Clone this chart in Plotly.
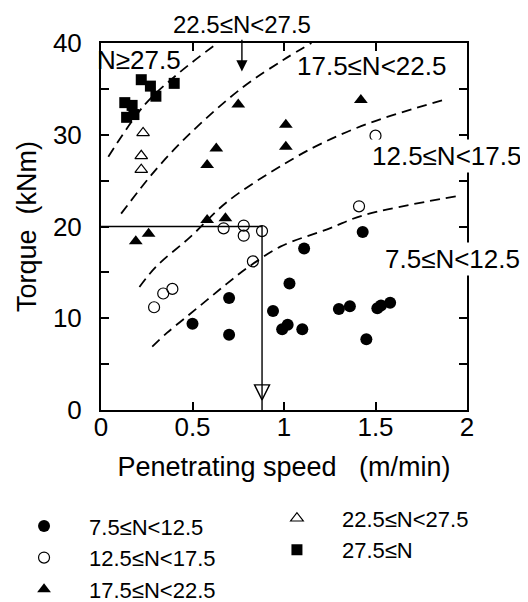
import plotly.graph_objects as go

# ---- data ----
n1_x = [0.50, 0.70, 0.70, 0.94, 0.99, 1.02, 1.10, 1.03, 1.11, 1.30, 1.36, 1.43, 1.45, 1.51, 1.53, 1.58]
n1_y = [9.4, 12.2, 8.2, 10.8, 8.8, 9.3, 8.8, 13.8, 17.6, 11.0, 11.3, 19.4, 7.7, 11.1, 11.4, 11.7]

n2_x = [0.29, 0.34, 0.39, 0.67, 0.78, 0.78, 0.88, 0.83, 1.41, 1.50]
n2_y = [11.2, 12.7, 13.2, 19.8, 20.1, 19.0, 19.5, 16.2, 22.2, 29.9]

n3_x = [0.19, 0.26, 0.58, 0.68, 0.58, 0.63, 0.75, 1.01, 1.01, 1.42]
n3_y = [18.4, 19.2, 20.7, 20.9, 26.7, 28.5, 33.3, 28.7, 31.1, 33.8]

n4_x = [0.23, 0.22, 0.22]
n4_y = [30.2, 27.7, 26.2]

n5_x = [0.13, 0.17, 0.14, 0.18, 0.22, 0.27, 0.30, 0.40]
n5_y = [33.5, 33.2, 31.9, 32.2, 36.0, 35.3, 34.2, 35.6]

# dashed boundary curves
c1_x = [0.28, 0.36, 0.47, 0.58, 0.69, 0.80, 0.98, 1.25, 1.43, 1.94]
c1_y = [6.9, 8.4, 10.2, 12.0, 13.8, 15.5, 17.8, 19.8, 21.2, 23.3]
c2_x = [0.21, 0.30, 0.49, 0.69, 1.00, 1.21, 1.47, 1.89]
c2_y = [13.4, 15.6, 18.9, 22.7, 26.8, 29.1, 31.3, 33.9]
c3_x = [0.11, 0.30, 0.49, 0.77, 1.00, 1.15]
c3_y = [21.4, 26.2, 30.2, 35.1, 38.2, 40.0]
c4_x = [0.04, 0.24, 0.43, 0.63]
c4_y = [27.6, 33.3, 36.8, 39.9]

# reading guide (torque 20 -> speed 0.88)
g_x = [0.0, 0.88, 0.88]
g_y = [20.0, 20.0, 0.0]

labels = ["7.5≤N<12.5", "12.5≤N<17.5", "17.5≤N<22.5", "22.5≤N<27.5", "27.5≤N"]

FONT = "Liberation Sans, Arial, Helvetica, sans-serif"

fig = go.Figure()

for cx, cy in [(c1_x, c1_y), (c2_x, c2_y), (c3_x, c3_y), (c4_x, c4_y)]:
    fig.add_trace(go.Scatter(x=cx, y=cy, mode="lines", line=dict(color="black", width=1.8, dash="10px,6px", shape="spline"),
                             showlegend=False, hoverinfo="skip"))

fig.add_trace(go.Scatter(x=g_x, y=g_y, mode="lines", line=dict(color="black", width=1.4),
                         showlegend=False, hoverinfo="skip"))
fig.add_trace(go.Scatter(x=[g_x[-1]], y=[1.1], mode="markers",
                         marker=dict(symbol="arrow-down-open", size=15, color="black", line=dict(width=1.4, color="black")),
                         showlegend=False, hoverinfo="skip"))

series = [
    (n1_x, n1_y, labels[0], dict(symbol="circle", size=12, color="black"), "legend", 1),
    (n2_x, n2_y, labels[1], dict(symbol="circle-open", size=11, color="black", line=dict(width=1.2)), "legend", 2),
    (n3_x, n3_y, labels[2], dict(symbol="triangle-up", size=12, color="black"), "legend", 3),
    (n4_x, n4_y, labels[3], dict(symbol="triangle-up-open", size=11, color="black", line=dict(width=1.2)), "legend2", 1),
    (n5_x, n5_y, labels[4], dict(symbol="square", size=11, color="black"), "legend2", 2),
]
for sx, sy, name, mk, lg, rank in series:
    fig.add_trace(go.Scatter(x=sx, y=sy, mode="markers", name=name, marker=mk, legend=lg, legendrank=rank))

ann_font = dict(family=FONT, size=26, color="black")
fig.add_annotation(x=0.77, y=36.9, ax=0.77, ay=42.0, axref="x", ayref="y", text="22.5≤N<27.5",
                   showarrow=True, arrowhead=2, arrowsize=1.6, arrowwidth=1.4, arrowcolor="black",
                   font=dict(family=FONT, size=24, color="black"), standoff=0, startstandoff=0)
fig.add_annotation(x=0.21, y=38.2, text="N≥27.5", showarrow=False, font=ann_font)
fig.add_annotation(x=1.48, y=37.5, text="17.5≤N<22.5", showarrow=False, font=ann_font)
fig.add_annotation(x=1.89, y=27.7, text="12.5≤N<17.5", showarrow=False, font=ann_font, bgcolor="white")
fig.add_annotation(x=1.92, y=16.5, text="7.5≤N<12.5", showarrow=False, font=ann_font, bgcolor="white")

axis_common = dict(showline=True, linecolor="black", linewidth=2, mirror="ticks", ticks="inside",
                   ticklen=8, tickwidth=2, tickcolor="black", showgrid=False, zeroline=False,
                   tickfont=dict(family=FONT, size=26, color="black"))

fig.update_xaxes(range=[0, 2], tickvals=[0, 0.5, 1, 1.5, 2], ticktext=["0", "0.5", "1", "1.5", "2"],
                 title=dict(text="Penetrating speed   (m/min)", font=dict(family=FONT, size=27, color="black"), standoff=16),
                 ticklabelstandoff=-7, **axis_common)
fig.update_yaxes(range=[0, 40], tickvals=[0, 10, 20, 30, 40],
                 minor=dict(tickvals=[5, 15, 25, 35], ticks="inside", ticklen=8, tickwidth=2, tickcolor="black"),
                 title=dict(text="Torque  (kNm)", font=dict(family=FONT, size=27, color="black"), standoff=8),
                 ticklabelstandoff=12, **axis_common)

leg_common = dict(font=dict(family=FONT, size=22, color="black"), bgcolor="rgba(0,0,0,0)",
                  itemwidth=80, indentation=-9, tracegroupgap=0, xref="paper", yref="container",
                  yanchor="top", xanchor="left", itemclick=False)
fig.update_layout(
    width=520, height=594,
    margin=dict(l=93, r=61, t=35, b=192),
    paper_bgcolor="white", plot_bgcolor="white",
    font=dict(family=FONT, color="black"),
    legend=dict(x=-0.254, y=0.163, **leg_common),
    legend2=dict(x=0.437, y=0.176, **leg_common),
)

fig.write_html("out.html")
